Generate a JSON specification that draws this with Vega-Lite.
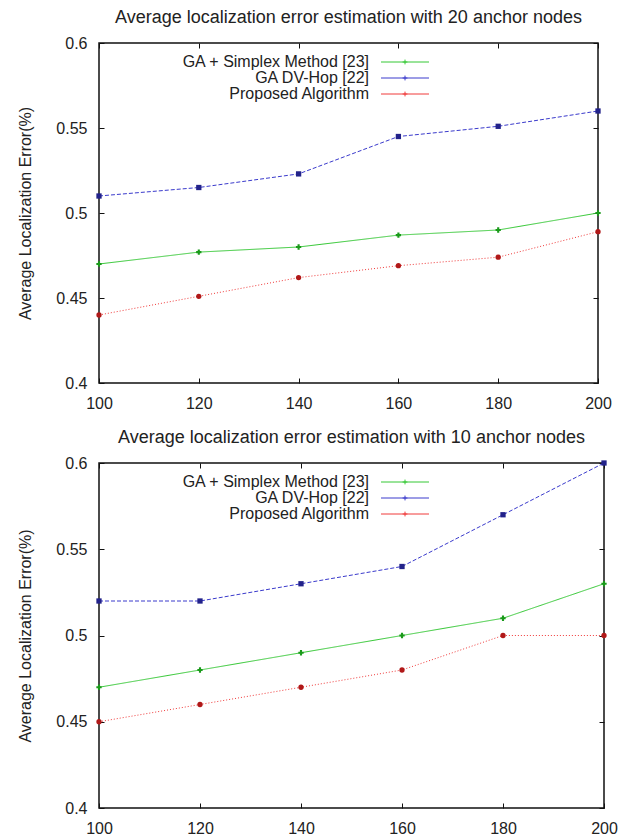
{
  "$schema": "https://vega.github.io/schema/vega-lite/v6.json",
  "padding": {"left": 17, "top": 8, "right": 0, "bottom": 0},
  "background": "white",
  "datasets": {
    "a20": [
      {"series": "GA + Simplex Method [23]", "n": 100, "err": 0.470},
      {"series": "GA + Simplex Method [23]", "n": 120, "err": 0.477},
      {"series": "GA + Simplex Method [23]", "n": 140, "err": 0.480},
      {"series": "GA + Simplex Method [23]", "n": 160, "err": 0.487},
      {"series": "GA + Simplex Method [23]", "n": 180, "err": 0.490},
      {"series": "GA + Simplex Method [23]", "n": 200, "err": 0.500},
      {"series": "GA DV-Hop [22]", "n": 100, "err": 0.510},
      {"series": "GA DV-Hop [22]", "n": 120, "err": 0.515},
      {"series": "GA DV-Hop [22]", "n": 140, "err": 0.523},
      {"series": "GA DV-Hop [22]", "n": 160, "err": 0.545},
      {"series": "GA DV-Hop [22]", "n": 180, "err": 0.551},
      {"series": "GA DV-Hop [22]", "n": 200, "err": 0.560},
      {"series": "Proposed Algorithm", "n": 100, "err": 0.440},
      {"series": "Proposed Algorithm", "n": 120, "err": 0.451},
      {"series": "Proposed Algorithm", "n": 140, "err": 0.462},
      {"series": "Proposed Algorithm", "n": 160, "err": 0.469},
      {"series": "Proposed Algorithm", "n": 180, "err": 0.474},
      {"series": "Proposed Algorithm", "n": 200, "err": 0.489}
    ],
    "a10": [
      {"series": "GA + Simplex Method [23]", "n": 100, "err": 0.47},
      {"series": "GA + Simplex Method [23]", "n": 120, "err": 0.48},
      {"series": "GA + Simplex Method [23]", "n": 140, "err": 0.49},
      {"series": "GA + Simplex Method [23]", "n": 160, "err": 0.50},
      {"series": "GA + Simplex Method [23]", "n": 180, "err": 0.51},
      {"series": "GA + Simplex Method [23]", "n": 200, "err": 0.53},
      {"series": "GA DV-Hop [22]", "n": 100, "err": 0.52},
      {"series": "GA DV-Hop [22]", "n": 120, "err": 0.52},
      {"series": "GA DV-Hop [22]", "n": 140, "err": 0.53},
      {"series": "GA DV-Hop [22]", "n": 160, "err": 0.54},
      {"series": "GA DV-Hop [22]", "n": 180, "err": 0.57},
      {"series": "GA DV-Hop [22]", "n": 200, "err": 0.60},
      {"series": "Proposed Algorithm", "n": 100, "err": 0.45},
      {"series": "Proposed Algorithm", "n": 120, "err": 0.46},
      {"series": "Proposed Algorithm", "n": 140, "err": 0.47},
      {"series": "Proposed Algorithm", "n": 160, "err": 0.48},
      {"series": "Proposed Algorithm", "n": 180, "err": 0.50},
      {"series": "Proposed Algorithm", "n": 200, "err": 0.50}
    ]
  },
  "config": {
    "font": "Liberation Sans",
    "view": {"stroke": "#111", "strokeWidth": 1.5},
    "axis": {
      "grid": false, "domain": false, "tickColor": "#111", "tickSize": -5, "tickWidth": 1, "labelFlush": false,
      "labelFontSize": 16, "labelColor": "#222", "labelFont": "Liberation Sans",
      "titleFontSize": 16, "titleFontWeight": "normal", "titleColor": "#222", "titleFont": "Liberation Sans"
    },
    "title": {"fontSize": 18, "fontWeight": "normal", "color": "#222", "frame": "group", "offset": 8, "font": "Liberation Sans"},
    "legend": {
      "orient": "none", "legendX": 298, "legendY": 11, "title": null,
      "labelAlign": "right", "labelOffset": -44, "labelFontSize": 16, "labelColor": "#222", "labelLimit": 0,
      "symbolType": "M-4,0H4M0,-0.4V0.4M-0.4,0H0.4", "symbolSize": 144, "symbolStrokeWidth": 1,
      "rowPadding": -2, "padding": 0
    },
    "concat": {"spacing": 16}
  },
  "vconcat": [
    {
      "title": "Average localization error estimation with 20 anchor nodes",
      "width": 499, "height": 340,
      "data": {"name": "a20"},
      "layer": [
        {
          "mark": {"type": "line", "strokeWidth": 1},
          "encoding": {
            "x": {"field": "n", "type": "quantitative", "scale": {"domain": [100, 200], "nice": false, "zero": false},
                  "axis": {"orient": "bottom", "values": [100, 120, 140, 160, 180, 200], "format": "d", "title": null, "labelPadding": 17}},
            "y": {"field": "err", "type": "quantitative", "scale": {"domain": [0.4, 0.6], "nice": false, "zero": false},
                  "axis": {"orient": "left", "values": [0.4, 0.45, 0.5, 0.55, 0.6], "format": "~g", "title": "Average Localization Error(%)", "labelPadding": 17, "titlePadding": 22}},
            "color": {"field": "series", "type": "nominal",
                      "scale": {"domain": ["GA + Simplex Method [23]", "GA DV-Hop [22]", "Proposed Algorithm"], "range": ["#35c835", "#3a3acc", "#f03a3a"]},
                      "legend": {}},
            "strokeDash": {"field": "series", "type": "nominal",
                      "scale": {"domain": ["GA + Simplex Method [23]", "GA DV-Hop [22]", "Proposed Algorithm"], "range": [[1, 0], [4, 2], [1, 2]]}}
          }
        },
        {
          "mark": {"type": "point", "filled": true, "size": 28, "opacity": 1},
          "encoding": {
            "x": {"field": "n", "type": "quantitative", "axis": {"orient": "top", "values": [100, 120, 140, 160, 180, 200], "labels": false, "title": null}},
            "y": {"field": "err", "type": "quantitative", "axis": {"orient": "right", "values": [0.4, 0.45, 0.5, 0.55, 0.6], "labels": false, "title": null}},
            "color": {"field": "series", "type": "nominal",
                      "scale": {"domain": ["GA + Simplex Method [23]", "GA DV-Hop [22]", "Proposed Algorithm"], "range": ["#1a9a1a", "#22228a", "#b01818"]},
                      "legend": null},
            "shape": {"field": "series", "type": "nominal",
                      "scale": {"domain": ["GA + Simplex Method [23]", "GA DV-Hop [22]", "Proposed Algorithm"], "range": ["cross", "square", "circle"]},
                      "legend": null}
          }
        }
      ],
      "resolve": {"axis": {"x": "independent", "y": "independent"}, "scale": {"color": "independent"}}
    },
    {
      "title": "Average localization error estimation with 10 anchor nodes",
      "width": 505, "height": 345,
      "data": {"name": "a10"},
      "layer": [
        {
          "mark": {"type": "line", "strokeWidth": 1},
          "encoding": {
            "x": {"field": "n", "type": "quantitative", "scale": {"domain": [100, 200], "nice": false, "zero": false},
                  "axis": {"orient": "bottom", "values": [100, 120, 140, 160, 180, 200], "format": "d", "title": null, "labelPadding": 17}},
            "y": {"field": "err", "type": "quantitative", "scale": {"domain": [0.4, 0.6], "nice": false, "zero": false},
                  "axis": {"orient": "left", "values": [0.4, 0.45, 0.5, 0.55, 0.6], "format": "~g", "title": "Average Localization Error(%)", "labelPadding": 17, "titlePadding": 22}},
            "color": {"field": "series", "type": "nominal",
                      "scale": {"domain": ["GA + Simplex Method [23]", "GA DV-Hop [22]", "Proposed Algorithm"], "range": ["#35c835", "#3a3acc", "#f03a3a"]},
                      "legend": {}},
            "strokeDash": {"field": "series", "type": "nominal",
                      "scale": {"domain": ["GA + Simplex Method [23]", "GA DV-Hop [22]", "Proposed Algorithm"], "range": [[1, 0], [4, 2], [1, 2]]}}
          }
        },
        {
          "mark": {"type": "point", "filled": true, "size": 28, "opacity": 1},
          "encoding": {
            "x": {"field": "n", "type": "quantitative", "axis": {"orient": "top", "values": [100, 120, 140, 160, 180, 200], "labels": false, "title": null}},
            "y": {"field": "err", "type": "quantitative", "axis": {"orient": "right", "values": [0.4, 0.45, 0.5, 0.55, 0.6], "labels": false, "title": null}},
            "color": {"field": "series", "type": "nominal",
                      "scale": {"domain": ["GA + Simplex Method [23]", "GA DV-Hop [22]", "Proposed Algorithm"], "range": ["#1a9a1a", "#22228a", "#b01818"]},
                      "legend": null},
            "shape": {"field": "series", "type": "nominal",
                      "scale": {"domain": ["GA + Simplex Method [23]", "GA DV-Hop [22]", "Proposed Algorithm"], "range": ["cross", "square", "circle"]},
                      "legend": null}
          }
        }
      ],
      "resolve": {"axis": {"x": "independent", "y": "independent"}, "scale": {"color": "independent"}}
    }
  ]
}
